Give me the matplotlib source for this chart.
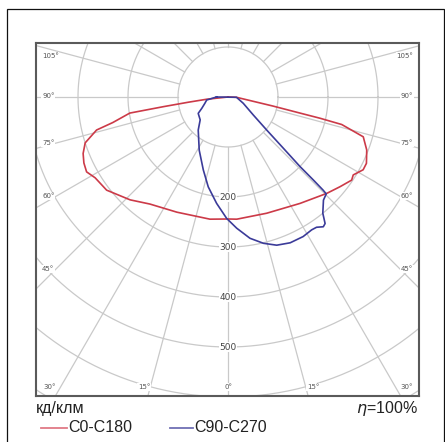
import numpy as np
import matplotlib
matplotlib.use("Agg")
import matplotlib.pyplot as plt
from matplotlib.lines import Line2D
from matplotlib.patches import Rectangle

# C0-C180 curve: gamma in degrees (0 = straight down, negative = C180 side), intensity in cd/klm
red_gamma = [-90, -84, -82.5, -81.5, -80.7, -77.5, -75.9, -72.2, -68.7, -65.4, -62.1, -58.7,
             -52.5, -43.6, -36.1, -23.9, -8.4, 0, 4.1, 18.4, 34.1, 45.7, 51.3, 56.1, 58.1,
             61.7, 64.4, 69.1, 73.6, 76.4, 77.0, 77.4, 78.6, 88, 90]
red_I = [0, 43, 80, 130, 199, 236, 271, 300, 311, 317, 320, 311,
         306, 284, 265, 252, 247, 244, 245, 245, 257, 276, 287, 298, 295,
         307, 307, 297, 282, 234, 189, 148, 92, 17, 0]

# C90-C270 curve
blue_gamma = [-90, -82, -74.7, -66.7, -61.2, -50.6, -42.0, -28.4, -18.7, -12.4, -6.1, -0.6,
              3.8, 8.85, 13.6, 18.2, 23.1, 28.3, 32.2, 34.2, 36.3, 37.5, 39.2, 42.8,
              45.4, 45.6, 45.8, 46.0, 47.2, 49.5, 54.6, 67.6, 88]
blue_I = [23, 43, 48, 57, 68, 72, 89, 121, 154, 184, 214, 243,
          263, 286, 301, 312, 317, 317, 314, 315, 322, 319, 300, 281,
          276, 266, 238, 200, 151, 102, 62, 33, 17]

rings = [100, 200, 300, 400, 500, 600, 700]
ring_labels = [200, 300, 400, 500]
spokes = list(range(0, 360, 15))

side_angles = ["105°", "90°", "75°", "60°", "45°"]
side_label_py = [56, 96, 143, 196, 269]
bottom_angles = ["30°", "15°", "0°", "15°", "30°"]

W, H = 445, 442
grid_c = "#c9c9c9"


def to_xy(gamma, inten):
    g = np.radians(np.asarray(gamma, dtype=float))
    i = np.asarray(inten, dtype=float)
    return i * np.sin(g), -i * np.cos(g)


def px2data(px, py):
    # plot centre sits at pixel (228, 97), 100 cd/klm = 50 px
    return (px - 228) * 2.0, (97 - py) * 2.0


fig = plt.figure(figsize=(W / 100, H / 100), dpi=100)
fig.patch.set_facecolor("white")
ax = fig.add_axes([36 / W, 1 - 396 / H, 383 / W, 353 / H])
ax.set_xlim(-384, 382)
ax.set_ylim(-598, 108)
ax.set_xticks([])
ax.set_yticks([])
for s in ax.spines.values():
    s.set_color("#5a5a5a")
    s.set_linewidth(1.5)

t = np.linspace(0, 2 * np.pi, 400)
for r in rings:
    ax.plot(r * np.cos(t), r * np.sin(t), color=grid_c, lw=0.9, zorder=1)
for a in spokes:
    g = np.radians(a)
    ax.plot([100 * np.sin(g), 900 * np.sin(g)], [-100 * np.cos(g), -900 * np.cos(g)],
            color=grid_c, lw=0.9, zorder=1)

rx, ry = to_xy(red_gamma, red_I)
ax.plot(rx, ry, color="#cc3a48", lw=1.2, zorder=3)
bx, by = to_xy(blue_gamma, blue_I)
ax.plot(np.append(bx, bx[0]), np.append(by, by[0]), color="#3b3b99", lw=1.2, zorder=4)

lab_kw = dict(fontsize=5, color="#555555", va="center", zorder=5,
              bbox=dict(facecolor="white", edgecolor="none", pad=0.4))
for txt, py in zip(side_angles, side_label_py):
    x0, y0 = px2data(42, py)
    ax.text(x0, y0, txt, ha="left", **lab_kw)
    x1, _ = px2data(413, py)
    ax.text(x1, y0, txt, ha="right", **lab_kw)

for txt, px, ha in zip(bottom_angles, [43, 144, 228, 313, 413],
                       ["left", "center", "center", "center", "right"]):
    x0, y0 = px2data(px, 387)
    ax.text(x0, y0, txt, ha=ha, **lab_kw)

for r in ring_labels:
    ax.text(0, -r, str(r), ha="center", va="center", fontsize=6.5, color="#444444", zorder=5,
            bbox=dict(facecolor="white", edgecolor="none", pad=0.5))

font = dict(family="Liberation Sans", fontsize=11.5, color="#222222")
fig.text(36 / W, 1 - 409 / H, "кд/клм", ha="left", va="center", **font)
fig.text(418 / W, 1 - 409 / H, r"$\eta$=100%", ha="right", va="center", **font)

fig.add_artist(Line2D([41 / W, 67 / W], [1 - 428 / H] * 2, color="#e07a86", lw=1.3,
                      transform=fig.transFigure))
fig.text(68 / W, 1 - 428 / H, "C0-C180", ha="left", va="center", **font)
fig.add_artist(Line2D([170 / W, 193 / W], [1 - 428 / H] * 2, color="#7070b4", lw=1.3,
                      transform=fig.transFigure))
fig.text(194 / W, 1 - 428 / H, "C90-C270", ha="left", va="center", **font)

fig.add_artist(Rectangle((7 / W, -0.05), 437 / W, 1.05 - 9 / H, fill=False,
                         edgecolor="#111111", lw=0.9, transform=fig.transFigure))

fig.savefig("out.png", dpi=100, facecolor="white")
